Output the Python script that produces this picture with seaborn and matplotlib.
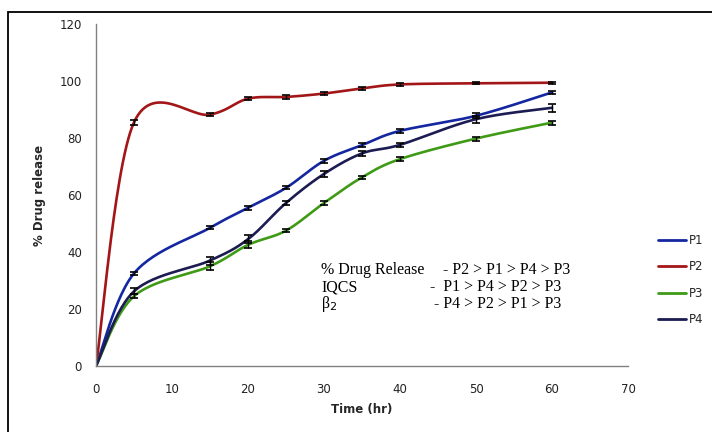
import numpy as np
import pandas as pd
import matplotlib
matplotlib.use("Agg")
import matplotlib.pyplot as plt
import seaborn as sns
from matplotlib.patches import Rectangle

sns.set_style("white")

# time points (hr)
time_hr = [0, 5, 15, 20, 25, 30, 35, 40, 50, 60]

# % drug release per formulation
p1 = [0, 32.5, 48.5, 55.5, 62.5, 72.0, 77.5, 82.5, 87.8, 96.0]
p2 = [0, 85.5, 88.2, 93.8, 94.4, 95.6, 97.4, 98.8, 99.2, 99.4]
p3 = [0, 24.5, 35.0, 42.5, 47.5, 57.2, 66.2, 72.6, 79.8, 85.4]
p4 = [0, 26.2, 37.0, 44.5, 57.2, 67.4, 74.6, 77.6, 86.6, 90.6]

# error (+/-)
p1_err = [0, 0.6, 0.6, 0.6, 0.5, 0.7, 0.6, 0.6, 0.8, 0.6]
p2_err = [0, 0.8, 0.6, 0.6, 0.6, 0.5, 0.5, 0.5, 0.4, 0.4]
p3_err = [0, 0.8, 1.4, 1.2, 0.6, 0.6, 0.6, 0.8, 0.7, 0.7]
p4_err = [0, 1.0, 1.4, 1.4, 0.8, 1.0, 0.8, 0.8, 1.2, 1.4]

names = ["P1", "P2", "P3", "P4"]
series = {"P1": p1, "P2": p2, "P3": p3, "P4": p4}
errors = {"P1": p1_err, "P2": p2_err, "P3": p3_err, "P4": p4_err}
colors = {"P1": "#1427a0", "P2": "#a31618", "P3": "#3f9a16", "P4": "#1c1c52"}


def smooth_curve(x, y, n=30):
    # Excel-style smoothed line: cubic Bezier with control points at 1/6 tension
    pts = np.column_stack([x, y]).astype(float)
    out = [pts[0]]
    for i in range(len(pts) - 1):
        p0 = pts[i - 1] if i > 0 else pts[i]
        a = pts[i]
        b = pts[i + 1]
        p3 = pts[i + 2] if i + 2 < len(pts) else pts[i + 1]
        c1 = a + (b - p0) / 6.0
        c2 = b - (p3 - a) / 6.0
        t = np.linspace(0, 1, n)[1:, None]
        seg = ((1 - t) ** 3) * a + 3 * ((1 - t) ** 2) * t * c1 + 3 * (1 - t) * t ** 2 * c2 + t ** 3 * b
        out.extend(seg)
    out = np.array(out)
    return out[:, 0], out[:, 1]


rows = []
for name in names:
    sx, sy = smooth_curve(time_hr, series[name])
    for k, (a, b) in enumerate(zip(sx, sy)):
        rows.append({"series": name, "order": k, "time": a, "release": b})
df = pd.DataFrame(rows)

fig = plt.figure(figsize=(7.12, 4.32), dpi=100)
ax = fig.add_axes([96 / 712, 66 / 432, 532 / 712, 342 / 432])

sns.lineplot(data=df, x="time", y="release", hue="series", palette=colors,
             sort=False, estimator=None, units="series", linewidth=1.9, ax=ax,
             legend=False)

for name in names:
    ax.errorbar(time_hr[1:], series[name][1:], yerr=errors[name][1:], fmt="none",
                ecolor="black", elinewidth=1.0, capsize=2.8, capthick=1.2, zorder=5)

ax.set_xlim(0, 70)
ax.set_ylim(0, 120)
ax.set_xticks(range(0, 71, 10))
ax.set_yticks(range(0, 121, 20))
for side in ["top", "right"]:
    ax.spines[side].set_visible(False)
for side in ["left", "bottom"]:
    ax.spines[side].set_color("#808080")
    ax.spines[side].set_linewidth(1.0)
ax.tick_params(axis="both", which="major", direction="out", length=4, width=1,
               color="#808080", labelsize=8.5, labelcolor="#222222", pad=6)
ax.tick_params(axis="x", pad=8)
ax.set_xlabel("Time (hr)", fontsize=8.5, fontweight="bold", labelpad=5)
ax.set_ylabel("% Drug release", fontsize=8.5, fontweight="bold", labelpad=10)

# ranking annotation
tfont = dict(family="Liberation Serif", fontsize=11.5, color="black", va="center")
fig.text(321 / 712, 1 - 270 / 432, "% Drug Release", **tfont)
fig.text(443 / 712, 1 - 270 / 432, "- P2 > P1 > P4 > P3", **tfont)
fig.text(321 / 712, 1 - 287 / 432, "IQCS", **tfont)
fig.text(430 / 712, 1 - 287 / 432, "-  P1 > P4 > P2 > P3", **tfont)
fig.text(321 / 712, 1 - 304 / 432, "β$_2$", **tfont)
fig.text(434 / 712, 1 - 304 / 432, "- P4 > P2 > P1 > P3", **tfont)

handles = [plt.Line2D([0], [0], color=colors[n], lw=2) for n in names]
fig.legend(handles, names, loc="center left", bbox_to_anchor=(658 / 712, 1 - 280 / 432),
           frameon=False, fontsize=8.5, handlelength=2.4, handletextpad=0.2,
           labelspacing=1.15, borderaxespad=0, borderpad=0)

# outer chart frame
fig.patches.append(Rectangle((8 / 712, -0.05), 1.0, 1 - 12 / 432 + 0.05,
                             transform=fig.transFigure, fill=False,
                             edgecolor="black", linewidth=1.3))

fig.savefig("out.png", dpi=100)
